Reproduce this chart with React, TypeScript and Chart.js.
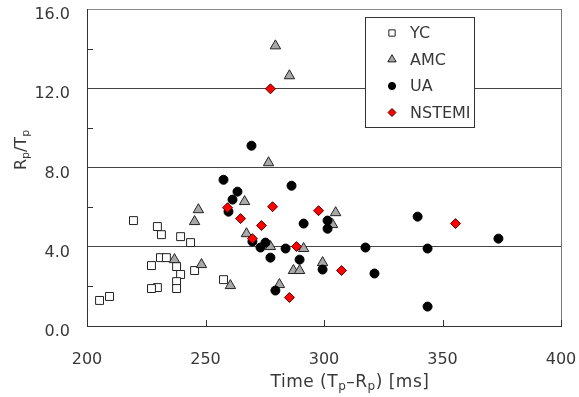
import React, { useEffect, useRef } from 'react';
import { Chart, registerables } from 'chart.js';

Chart.register(...registerables);

// ---------- data ----------
const ycX = [205.3, 209.5, 219.6, 229.7, 231.4, 239.5, 243.7, 227.2, 231.0, 233.5, 237.8, 239.5, 237.8, 237.8, 229.7, 227.2, 245.4, 257.6];
const ycY = [1.29, 1.49, 5.32, 5.02, 4.61, 4.51, 4.21, 3.05, 3.45, 3.45, 3.0, 2.6, 2.24, 1.89, 1.94, 1.89, 2.8, 2.34];

const amcX = [279.5, 285.4, 276.6, 236.9, 247.0, 245.4, 266.5, 248.3, 260.5, 267.3, 277.4, 291.4, 287.1, 289.7, 281.2, 299.4, 304.9, 303.6];
const amcY = [14.14, 12.63, 8.24, 3.35, 5.87, 5.27, 6.28, 3.1, 2.04, 4.66, 4.01, 3.91, 2.8, 2.8, 2.09, 3.2, 5.72, 5.12];

const uaX = [257.6, 269.4, 286.3, 263.5, 261.4, 259.7, 291.4, 301.5, 301.5, 269.8, 275.3, 273.2, 277.4, 283.8, 289.7, 299.4, 279.5, 339.5, 317.5, 343.7, 373.6, 321.3, 343.7];
const uaY = [7.38, 9.1, 7.08, 6.78, 6.38, 5.77, 5.17, 5.32, 4.91, 4.26, 4.21, 3.96, 3.45, 3.91, 3.35, 2.85, 1.79, 5.52, 3.96, 3.91, 4.41, 2.65, 0.98];

const nsX = [277.4, 259.3, 278.3, 297.7, 264.8, 273.6, 269.8, 288.4, 285.4, 355.5, 307.4];
const nsY = [11.97, 5.97, 6.02, 5.82, 5.42, 5.07, 4.41, 4.01, 1.44, 5.17, 2.8];

const seriesNames = ['YC', 'AMC', 'UA', 'NSTEMI'];
const xTickValues = [200, 250, 300, 350, 400];
const yTickValues = [0, 4, 8, 12, 16];
const yMinorTicks = [2, 6, 10, 14];
const xInnerTicks = [250, 300, 350, 400];

const FONT = 'DejaVu Sans';
const TEXT = '#383838';

const toPts = (xs: number[], ys: number[]) => xs.map((x, i) => ({ x, y: ys[i] }));

type Marker = { style: string; fill: string; stroke: string; r: number };
const markers: Marker[] = [
  { style: 'rect', fill: '#ffffff', stroke: '#222222', r: 5.6 },
  { style: 'triangle', fill: '#a8a8a8', stroke: '#222222', r: 6 },
  { style: 'circle', fill: '#000000', stroke: '#000000', r: 4.5 },
  { style: 'rectRot', fill: '#ff0000', stroke: '#550000', r: 5 },
];

function drawMarker(ctx: CanvasRenderingContext2D, m: Marker, x: number, y: number, r: number) {
  ctx.beginPath();
  if (m.style === 'rect') {
    const s = r * Math.SQRT1_2;
    ctx.rect(x - s, y - s, 2 * s, 2 * s);
  } else if (m.style === 'triangle') {
    for (let i = 0; i < 3; i++) {
      const a = (i * 2 * Math.PI) / 3;
      const px = x + Math.sin(a) * r;
      const py = y - Math.cos(a) * r;
      if (i === 0) ctx.moveTo(px, py); else ctx.lineTo(px, py);
    }
    ctx.closePath();
  } else if (m.style === 'circle') {
    ctx.arc(x, y, r, 0, Math.PI * 2);
  } else {
    ctx.moveTo(x, y - r);
    ctx.lineTo(x + r, y);
    ctx.lineTo(x, y + r);
    ctx.lineTo(x - r, y);
    ctx.closePath();
  }
  ctx.fillStyle = m.fill;
  ctx.fill();
  ctx.strokeStyle = m.stroke;
  ctx.lineWidth = 1;
  ctx.stroke();
}

function drawRich(ctx: CanvasRenderingContext2D, parts: [string, boolean][], x: number, y: number, size: number, subSize: number) {
  let cx = x;
  for (const [t, sub] of parts) {
    ctx.font = `${sub ? subSize : size}px "${FONT}"`;
    ctx.fillText(t, cx, sub ? y + 3 : y);
    cx += ctx.measureText(t).width;
  }
}
function richWidth(ctx: CanvasRenderingContext2D, parts: [string, boolean][], size: number, subSize: number) {
  let w = 0;
  for (const [t, sub] of parts) {
    ctx.font = `${sub ? subSize : size}px "${FONT}"`;
    w += ctx.measureText(t).width;
  }
  return w;
}

const xTitle: [string, boolean][] = [['Time (T', false], ['p', true], ['\u2013R', false], ['p', true], [') [ms]', false]];
const yTitle: [string, boolean][] = [['R', false], ['p', true], ['/T', false], ['p', true]];

const decorPlugin = {
  id: 'decor',
  afterDraw(chart: any) {
    const { ctx, chartArea: ca, scales } = chart;
    const xs = scales.x;
    const ys = scales.y;
    ctx.save();
    ctx.strokeStyle = '#777777';
    ctx.lineWidth = 1;
    ctx.beginPath();
    const rx = Math.round(ca.right) + 0.5;
    ctx.moveTo(rx, ca.top);
    ctx.lineTo(rx, ca.bottom);
    ctx.stroke();

    ctx.strokeStyle = '#333333';
    ctx.beginPath();
    for (const v of yMinorTicks) {
      const py = Math.round(ys.getPixelForValue(v)) + 0.5;
      ctx.moveTo(ca.left, py);
      ctx.lineTo(ca.left + 6, py);
    }
    for (const v of xInnerTicks) {
      const px = Math.round(xs.getPixelForValue(v)) + 0.5;
      ctx.moveTo(px, ca.bottom);
      ctx.lineTo(px, ca.bottom - 6);
    }
    ctx.stroke();

    ctx.fillStyle = TEXT;
    ctx.textBaseline = 'alphabetic';
    ctx.textAlign = 'left';
    (ctx as any).letterSpacing = '0.5px';
    const xw = richWidth(ctx, xTitle, 17, 12);
    drawRich(ctx, xTitle, 350 - xw / 2, 387, 17, 12);
    (ctx as any).letterSpacing = '0px';

    ctx.save();
    ctx.translate(26, 150);
    ctx.rotate(-Math.PI / 2);
    const yw = richWidth(ctx, yTitle, 16, 11);
    drawRich(ctx, yTitle, -yw / 2, 0, 16, 11);
    ctx.restore();

    // legend
    const lx = ca.right - 196;
    const ly = ca.top + 8;
    const lw = 109;
    const lh = 110;
    ctx.fillStyle = '#ffffff';
    ctx.fillRect(lx, ly, lw, lh);
    ctx.strokeStyle = '#333333';
    ctx.lineWidth = 1;
    ctx.strokeRect(Math.round(lx) + 0.5, Math.round(ly) + 0.5, lw, lh);
    ctx.textBaseline = 'middle';
    for (let i = 0; i < seriesNames.length; i++) {
      const cy = ly + 16 + i * 26.5;
      drawMarker(ctx, markers[i], lx + 27, cy, markers[i].r * 0.8);
      ctx.fillStyle = TEXT;
      ctx.font = `16px "${FONT}"`;
      ctx.fillText(seriesNames[i], lx + 45, cy + 1);
    }
    ctx.restore();
  },
};

const zeroPad = (s: any) => {
  s.paddingTop = 0;
  s.paddingBottom = 0;
  s.paddingLeft = 0;
  s.paddingRight = 0;
};

export default function App() {
  const ref = useRef<HTMLCanvasElement | null>(null);
  useEffect(() => {
    if (!ref.current) return;
    Chart.defaults.font.family = FONT;
    const seriesData = [toPts(ycX, ycY), toPts(amcX, amcY), toPts(uaX, uaY), toPts(nsX, nsY)];
    const chart = new Chart(ref.current, {
      type: 'scatter',
      data: {
        datasets: seriesData.map((d, i) => ({
          label: seriesNames[i],
          data: d,
          pointStyle: markers[i].style as any,
          pointRadius: markers[i].r,
          pointHoverRadius: markers[i].r,
          backgroundColor: markers[i].fill,
          borderColor: markers[i].stroke,
          pointBorderWidth: 1,
          order: 3 - i,
        })),
      },
      options: {
        animation: false,
        responsive: false,
        layout: { padding: { top: 9, right: 18, left: 0, bottom: 0 } },
        plugins: { legend: { display: false }, tooltip: { enabled: false } },
        scales: {
          x: {
            type: 'linear',
            min: 200,
            max: 400,
            afterBuildTicks: (s: any) => { s.ticks = xTickValues.map((v) => ({ value: v })); },
            afterFit: (s: any) => { s.height = 71; zeroPad(s); },
            ticks: { font: { size: 16, family: FONT }, color: TEXT, padding: 16, maxRotation: 0, callback: (v: any) => String(v) },
            grid: { display: false },
            border: { display: true, color: '#333333', width: 1 },
          },
          y: {
            type: 'linear',
            min: 0,
            max: 16,
            afterBuildTicks: (s: any) => { s.ticks = yTickValues.map((v) => ({ value: v })); },
            afterFit: (s: any) => { s.width = 87; zeroPad(s); },
            ticks: { font: { size: 16, family: FONT }, color: TEXT, padding: 17, labelOffset: 6, callback: (v: any) => Number(v).toFixed(1) },
            grid: {
              drawTicks: false,
              color: (c: any) => (c.tick && c.tick.value === 16 ? '#888888' : '#444444'),
              lineWidth: 1,
            },
            border: { display: true, color: '#333333', width: 1 },
          },
        },
      },
      plugins: [decorPlugin],
    });
    return () => chart.destroy();
  }, []);
  return (
    <div style={{ position: 'absolute', left: 0, top: 0, width: 579, height: 397 }}>
      <canvas ref={ref} width={579} height={397} style={{ display: 'block' }} />
    </div>
  );
}
